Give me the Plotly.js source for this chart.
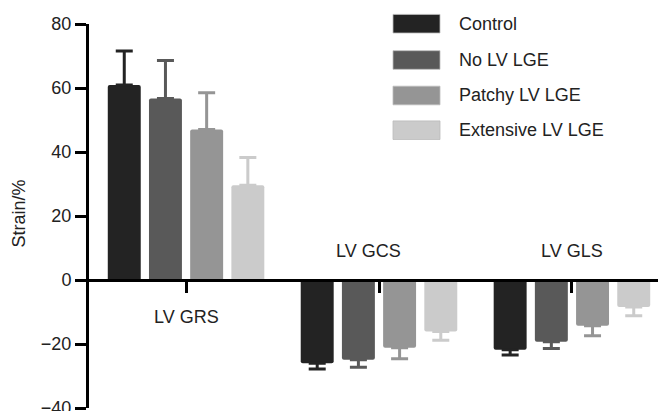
<!DOCTYPE html>
<html>
<head>
<meta charset="utf-8">
<script src="https://cdn.plot.ly/plotly-3.0.1.min.js"></script>
<style>html,body{margin:0;padding:0;background:#fff;}#chart{width:658px;height:411px;}</style>
</head>
<body>
<div id="chart"></div>
<script>
// ---- data ----
const categories = ['LV GRS', 'LV GCS', 'LV GLS'];
const groupNames = ['Control', 'No LV LGE', 'Patchy LV LGE', 'Extensive LV LGE'];
const controlMean = [60.9, -26.0, -21.8];
const noLgeMean = [56.7, -24.9, -19.3];
const patchyMean = [47.0, -21.2, -14.3];
const extensiveMean = [29.6, -16.1, -8.4];
const controlSD = [10.7, 1.8, 1.6];
const noLgeSD = [11.9, 2.4, 2.1];
const patchySD = [11.5, 3.4, 3.1];
const extensiveSD = [8.7, 2.7, 2.8];
const yTicks = [-40, -20, 0, 20, 40, 60, 80];
const yTitle = 'Strain/%';

// ---- style ----
const colors = ['#232323', '#595959', '#959595', '#cbcbcb'];
const FONT = 'Liberation Sans, Arial, Helvetica, sans-serif';
const FS = 18;
const TXT = '#222';
const W = 658, H = 411;
const M = {l: 89, r: 0, t: 24, b: 3};
const plotW = W - M.l - M.r, plotH = H - M.t - M.b;
const px2x = p => (p - M.l) / plotW;
const px2y = p => (H - M.b - p) / plotH;

const means = [controlMean, noLgeMean, patchyMean, extensiveMean];
const sds = [controlSD, noLgeSD, patchySD, extensiveSD];

const traces = groupNames.map((name, g) => ({
  type: 'bar',
  name: name,
  x: categories,
  y: means[g],
  marker: {color: colors[g], line: {width: 0}, cornerradius: 2},
  error_y: {
    type: 'data',
    symmetric: false,
    array: means[g].map((v, i) => v > 0 ? sds[g][i] : 0),
    arrayminus: means[g].map((v, i) => v < 0 ? sds[g][i] : 0),
    color: colors[g],
    thickness: 3,
    width: 8.5
  },
  hoverinfo: 'skip'
}));

const yMin = yTicks[0], yMax = yTicks[yTicks.length - 1];
const zeroFrac = (0 - yMin) / (yMax - yMin);

const annotations = categories.map((c, i) => ({
  x: c, xref: 'x', y: 0, yref: 'y',
  text: c, showarrow: false,
  xanchor: 'center', yanchor: 'middle',
  xshift: i === 1 ? -11 : 0,
  yshift: controlMean[i] > 0 ? -37 : 29,
  font: {family: FONT, size: FS, color: TXT}
}));

// y-axis title
annotations.push({
  x: px2x(18.5), y: px2y(214), xref: 'paper', yref: 'paper',
  text: yTitle, textangle: -90, showarrow: false,
  xanchor: 'center', yanchor: 'middle',
  font: {family: FONT, size: FS, color: TXT}
});

const shapes = [];
const legendRowsPx = [23.7, 60.0, 95.5, 130.2];
groupNames.forEach((name, g) => {
  const cy = legendRowsPx[g];
  shapes.push({
    type: 'rect', xref: 'paper', yref: 'paper',
    x0: px2x(393), x1: px2x(440), y0: px2y(cy + 9.3), y1: px2y(cy - 9.3),
    fillcolor: colors[g], line: {width: 0.8, color: '#bbbbbb'}
  });
  annotations.push({
    x: px2x(457), y: px2y(cy), xref: 'paper', yref: 'paper',
    text: name, showarrow: false, xanchor: 'left', yanchor: 'middle',
    font: {family: FONT, size: FS, color: TXT}
  });
});

const layout = {
  width: W, height: H,
  margin: {l: M.l, r: M.r, t: M.t, b: M.b, pad: 0},
  paper_bgcolor: '#fff', plot_bgcolor: '#fff',
  font: {family: FONT, size: FS, color: TXT},
  barmode: 'group', bargap: 0.146, bargroupgap: 0.2,
  showlegend: false,
  xaxis: {
    type: 'category', range: [-0.503, 2.446],
    anchor: 'free', position: zeroFrac,
    showline: true, linewidth: 3, linecolor: '#000',
    ticks: 'outside', ticklen: 11, tickwidth: 3, tickcolor: '#000',
    showticklabels: false, showgrid: false, zeroline: false, fixedrange: true
  },
  yaxis: {
    range: [yMin, yMax], tickvals: yTicks,
    showline: true, linewidth: 3, linecolor: '#000',
    ticks: 'outside', ticklen: 11, tickwidth: 3, tickcolor: '#000',
    ticklabeloverflow: 'allow',
    tickfont: {family: FONT, size: FS, color: TXT},
    showgrid: false, zeroline: false, fixedrange: true
  },
  annotations: annotations,
  shapes: shapes
};

Plotly.newPlot('chart', traces, layout, {displayModeBar: false, staticPlot: true});
</script>
</body>
</html>
